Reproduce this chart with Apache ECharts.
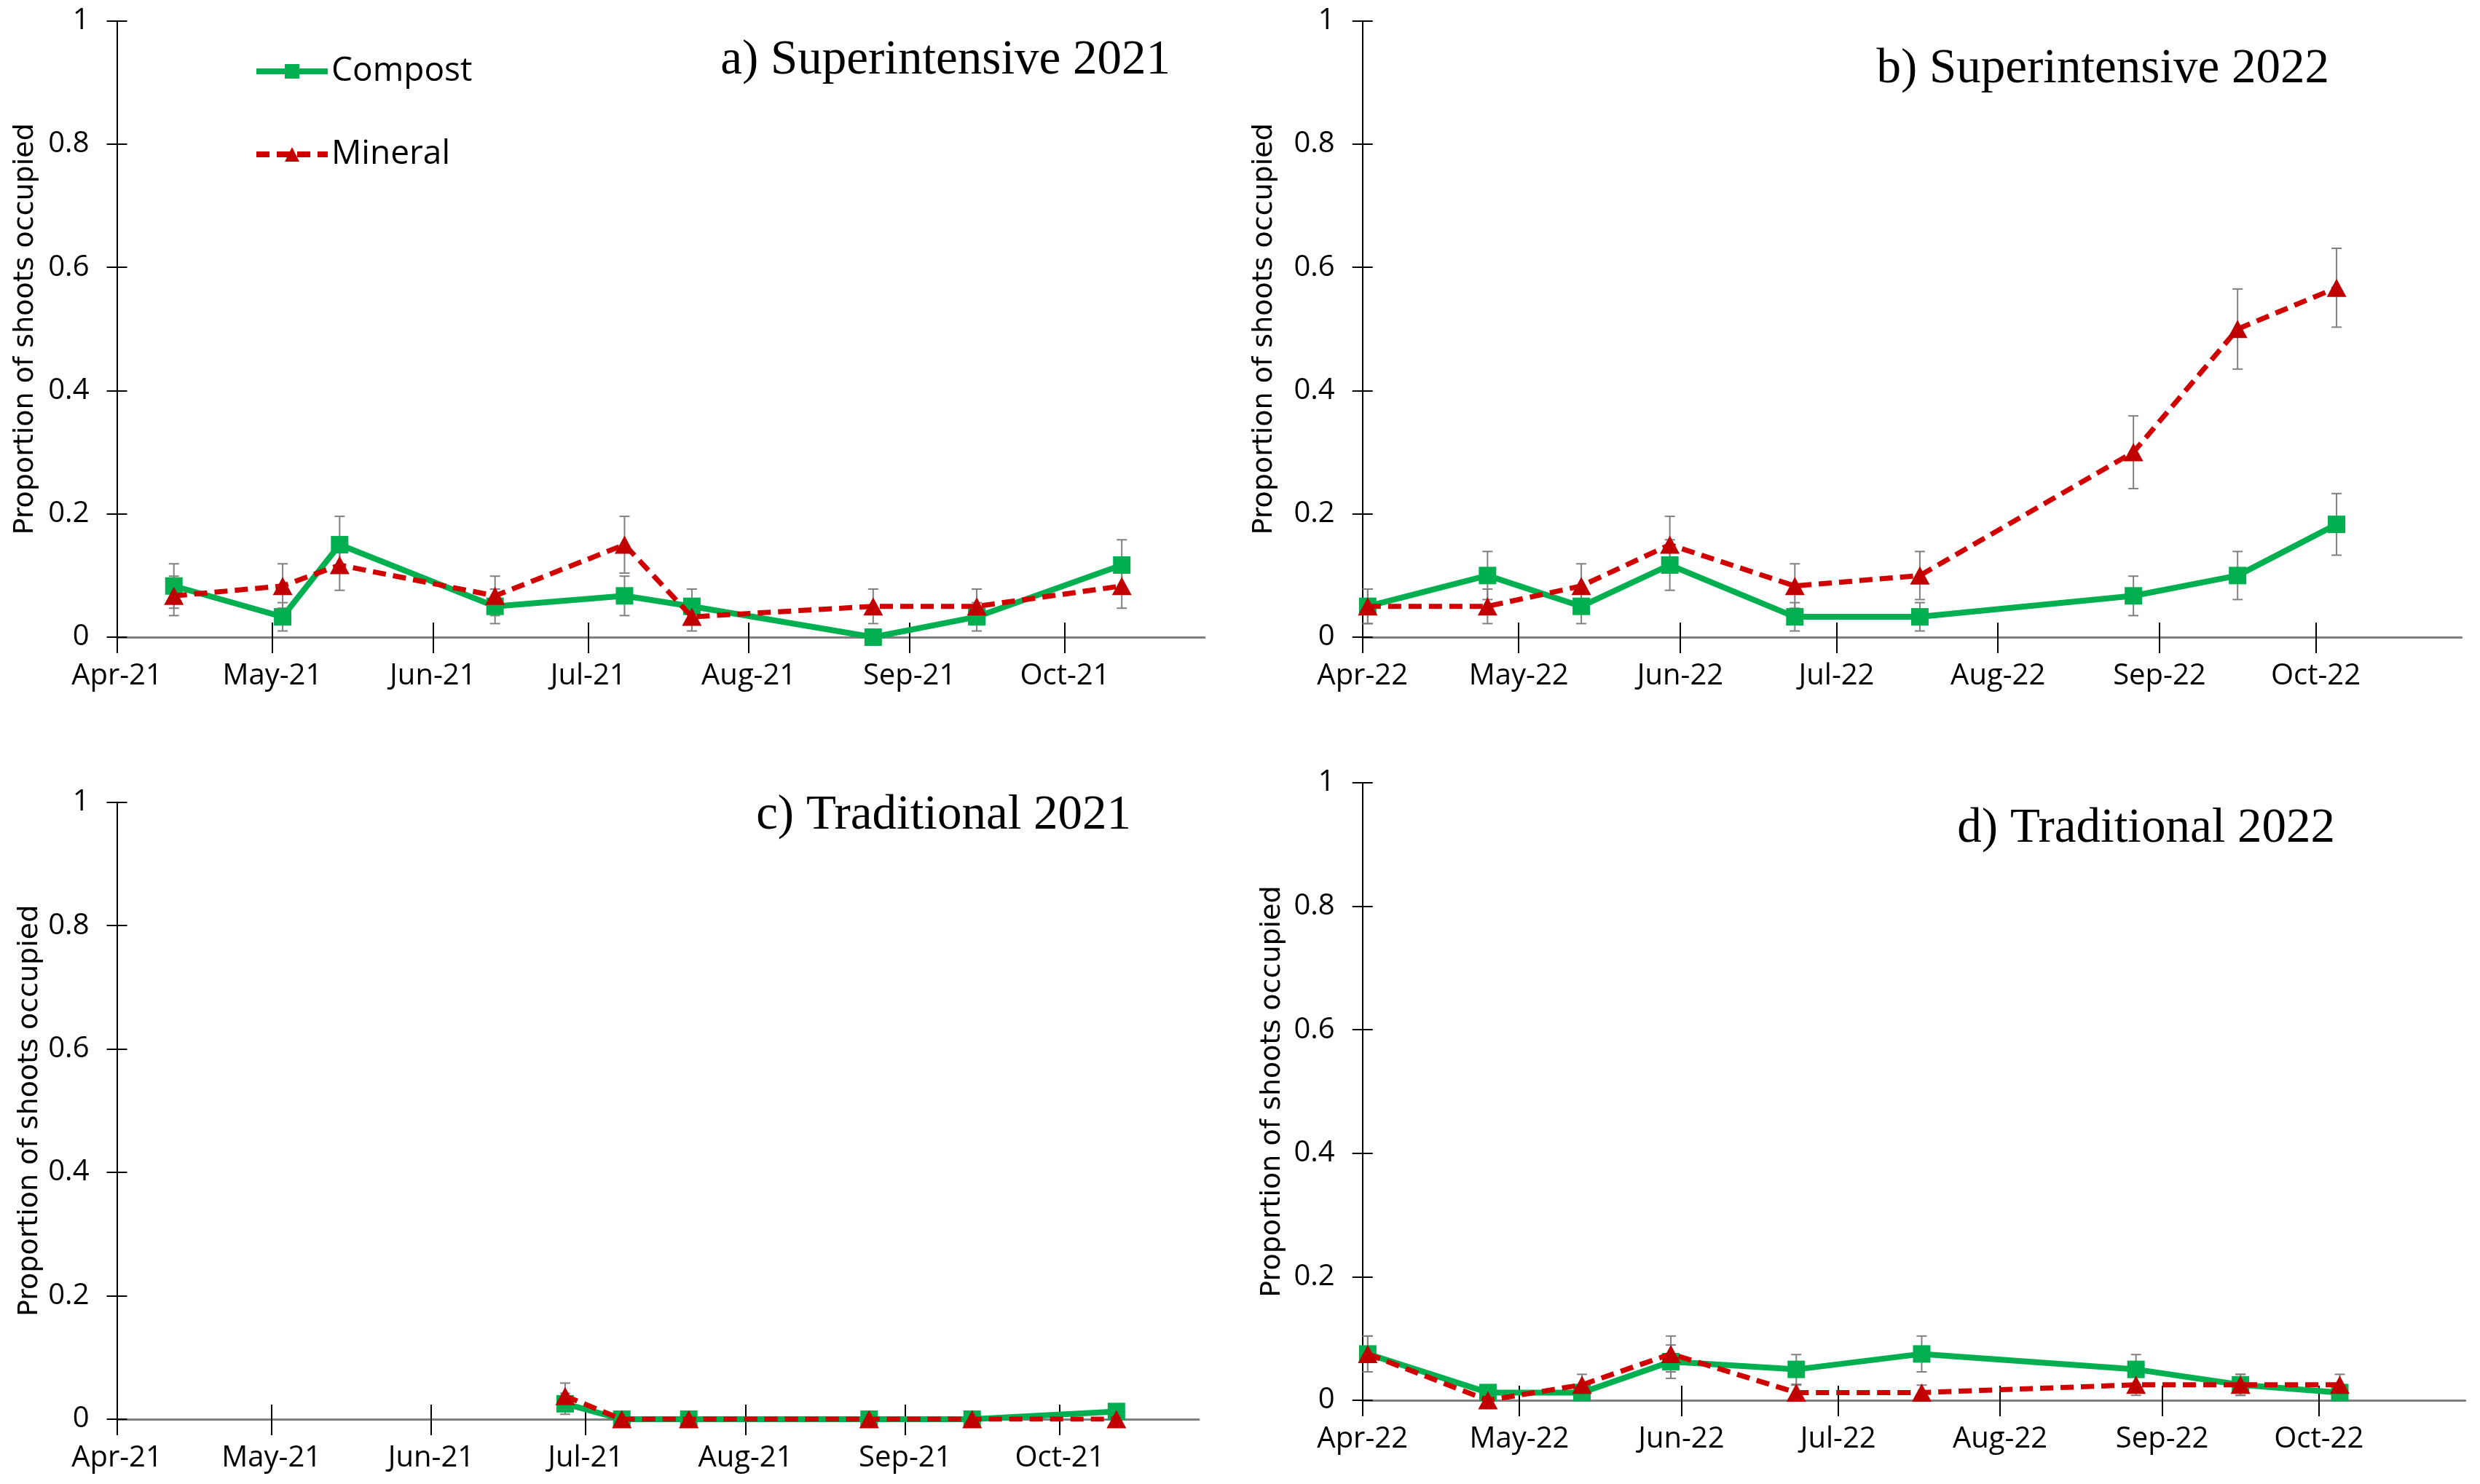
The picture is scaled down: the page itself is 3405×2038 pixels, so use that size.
<!DOCTYPE html>
<html>
<head>
<meta charset="utf-8">
<script src="https://cdn.jsdelivr.net/npm/echarts@6/dist/echarts.min.js"></script>
<style>
html,body{margin:0;padding:0;background:#fff;}
#chart{width:3405px;height:2038px;}
</style>
</head>
<body>
<div id="chart"></div>
<script>
// ---------- DATA ----------
const monthTicks21 = ['2021-04-01','2021-05-01','2021-06-01','2021-07-01','2021-08-01','2021-09-01','2021-10-01'];
const monthLabels21 = ['Apr-21','May-21','Jun-21','Jul-21','Aug-21','Sep-21','Oct-21'];
const monthTicks22 = ['2022-04-01','2022-05-01','2022-06-01','2022-07-01','2022-08-01','2022-09-01','2022-10-01'];
const monthLabels22 = ['Apr-22','May-22','Jun-22','Jul-22','Aug-22','Sep-22','Oct-22'];
const yTicks = [0, 0.2, 0.4, 0.6, 0.8, 1];

const titles = ['a) Superintensive 2021','b) Superintensive 2022','c) Traditional 2021','d) Traditional 2022'];
const seriesNames = ['Compost','Mineral'];
const yName = 'Proportion of shoots occupied';

// a) Superintensive 2021
const datesA = ['2021-04-12','2021-05-03','2021-05-14','2021-06-13','2021-07-08','2021-07-21','2021-08-25','2021-09-14','2021-10-12'];
const compostA = [0.083,0.033,0.15,0.05,0.067,0.05,0,0.033,0.117];
const compostAErr = [0.036,0.023,0.046,0.028,0.032,0.028,0,0.023,0.041];
const mineralA = [0.067,0.083,0.117,0.067,0.15,0.033,0.05,0.05,0.083];
const mineralAErr = [0.032,0.036,0.041,0.032,0.046,0.023,0.028,0.028,0.036];

// b) Superintensive 2022
const datesB = ['2022-04-02','2022-04-25','2022-05-13','2022-05-30','2022-06-23','2022-07-17','2022-08-27','2022-09-16','2022-10-05'];
const compostB = [0.05,0.1,0.05,0.117,0.033,0.033,0.067,0.1,0.183];
const compostBErr = [0.028,0.039,0.028,0.041,0.023,0.023,0.032,0.039,0.05];
const mineralB = [0.05,0.05,0.083,0.15,0.083,0.1,0.3,0.5,0.567];
const mineralBErr = [0.028,0.028,0.036,0.046,0.036,0.039,0.059,0.065,0.064];

// c) Traditional 2021
const datesC = ['2021-06-27','2021-07-08','2021-07-21','2021-08-25','2021-09-14','2021-10-12'];
const compostC = [0.025,0,0,0,0,0.0125];
const compostCErr = [0.017,0,0,0,0,0.012];
const mineralC = [0.0375,0,0,0,0,0];
const mineralCErr = [0.021,0,0,0,0,0];

// d) Traditional 2022
const datesD = ['2022-04-02','2022-04-25','2022-05-13','2022-05-30','2022-06-23','2022-07-17','2022-08-27','2022-09-16','2022-10-05'];
const compostD = [0.075,0.0125,0.0125,0.0625,0.05,0.075,0.05,0.025,0.0125];
const compostDErr = [0.029,0.012,0.012,0.027,0.024,0.029,0.024,0.017,0.012];
const mineralD = [0.075,0,0.025,0.075,0.0125,0.0125,0.025,0.025,0.025];
const mineralDErr = [0.029,0,0.017,0.029,0.012,0.012,0.017,0.017,0.017];

const xRange21 = ['2021-04-01','2021-10-28'];
const xRange22 = ['2022-04-01','2022-10-29'];

// ---------- LAYOUT / STYLE ----------
const ts = s => new Date(s + 'T00:00:00').getTime();
const GREEN = '#00B050', RED_LINE = '#D00000', RED = '#C00000', ERR = '#808080';
const tickFont = 'Open Sans';

const panels = [
  {dates: datesA, c: compostA, ce: compostAErr, m: mineralA, me: mineralAErr, ticks: monthTicks21, labels: monthLabels21, range: xRange21,
   grid: {left: 160.5, top: 28.7, width: 1493.5, height: 846.3}, nameGap: 106, title: {right: 1798, top: 50}},
  {dates: datesB, c: compostB, ce: compostBErr, m: mineralB, me: mineralBErr, ticks: monthTicks22, labels: monthLabels22, range: xRange22,
   grid: {left: 1870.7, top: 28.7, width: 1509, height: 846.3}, nameGap: 116, title: {right: 207, top: 62}},
  {dates: datesC, c: compostC, ce: compostCErr, m: mineralC, me: mineralCErr, ticks: monthTicks21, labels: monthLabels21, range: xRange21,
   grid: {left: 160.5, top: 1101.7, width: 1485.5, height: 847.3}, nameGap: 100, title: {right: 1852, top: 1087}},
  {dates: datesD, c: compostD, ce: compostDErr, m: mineralD, me: mineralDErr, ticks: monthTicks22, labels: monthLabels22, range: xRange22,
   grid: {left: 1870.7, top: 1075, width: 1514, height: 848}, nameGap: 105, title: {right: 199, top: 1105}}
];

function errRender(params, api) {
  const x = api.value(0), lo = api.value(1), hi = api.value(2);
  if (hi - lo < 1e-6) return null;
  const t = api.coord([x, hi]), b = api.coord([x, lo]);
  const c = 7;
  const st = {stroke: ERR, lineWidth: 2};
  return {type: 'group', children: [
    {type: 'line', shape: {x1: t[0], y1: t[1], x2: b[0], y2: b[1]}, style: st},
    {type: 'line', shape: {x1: t[0] - c, y1: t[1], x2: t[0] + c, y2: t[1]}, style: st},
    {type: 'line', shape: {x1: b[0] - c, y1: b[1], x2: b[0] + c, y2: b[1]}, style: st}
  ]};
}

const grids = [], xAxes = [], yAxes = [], series = [], titleArr = [];
panels.forEach((p, i) => {
  grids.push(Object.assign({outerBoundsMode: 'none', containLabel: false}, p.grid));
  titleArr.push({text: titles[i], right: p.title.right, top: p.title.top, padding: 0,
    textStyle: {fontFamily: 'Liberation Serif', fontSize: 67, fontWeight: 'normal', color: '#000', lineHeight: 66}});
});
const tickVals = panels.map(p => p.ticks.map(ts));
// main axes 0..3
panels.forEach((p, i) => {
  xAxes.push({
    type: 'value', gridIndex: i, min: ts(p.range[0]), max: ts(p.range[1]), scale: true,
    axisLine: {show: true, onZero: false, lineStyle: {color: '#7f7f7f', width: 3}},
    axisTick: {show: true, length: 22, customValues: tickVals[i], lineStyle: {color: '#000', width: 2}},
    axisLabel: {show: true, customValues: tickVals[i], margin: 34, color: '#000', fontFamily: tickFont, fontSize: 40,
      formatter: (v) => { const k = tickVals[i].indexOf(v); return k >= 0 ? p.labels[k] : ''; }},
    splitLine: {show: false}, minorTick: {show: false}
  });
  yAxes.push({
    type: 'value', gridIndex: i, min: 0, max: 1, interval: 0.2,
    name: yName, nameLocation: 'middle', nameRotate: 90, nameGap: p.nameGap,
    nameTextStyle: {fontFamily: 'DejaVu Sans', fontSize: 38, color: '#000'},
    axisLine: {show: true, lineStyle: {color: '#000', width: 2}},
    axisTick: {show: true, length: 14, lineStyle: {color: '#000', width: 2}},
    axisLabel: {margin: 38, color: '#000', fontFamily: tickFont, fontSize: 40,
      formatter: v => String(Math.round(v * 10) / 10)},
    splitLine: {show: false}
  });
});
// overlay axes 4..7 for crossing ticks
panels.forEach((p, i) => {
  xAxes.push({
    type: 'value', gridIndex: i, min: ts(p.range[0]), max: ts(p.range[1]), scale: true, position: 'bottom',
    axisLine: {show: false, onZero: false},
    axisTick: {show: true, inside: true, length: 20, customValues: tickVals[i], lineStyle: {color: '#000', width: 2}},
    axisLabel: {show: false}, splitLine: {show: false}
  });
  yAxes.push({
    type: 'value', gridIndex: i, min: 0, max: 1, interval: 0.2, position: 'left',
    axisLine: {show: false},
    axisTick: {show: true, inside: true, length: 14, lineStyle: {color: '#000', width: 2}},
    axisLabel: {show: false}, splitLine: {show: false}
  });
});

panels.forEach((p, i) => {
  const t = p.dates.map(ts);
  series.push({
    type: 'custom', name: seriesNames[0] + ' error', xAxisIndex: i, yAxisIndex: i, z: 1,
    renderItem: errRender, encode: {x: 0, y: [1, 2]}, silent: true,
    data: t.map((d, k) => [d, p.c[k] - p.ce[k], p.c[k] + p.ce[k]])
  });
  series.push({
    type: 'custom', name: seriesNames[1] + ' error', xAxisIndex: i, yAxisIndex: i, z: 1,
    renderItem: errRender, encode: {x: 0, y: [1, 2]}, silent: true,
    data: t.map((d, k) => [d, p.m[k] - p.me[k], p.m[k] + p.me[k]])
  });
  series.push({
    type: 'line', name: seriesNames[0], xAxisIndex: i, yAxisIndex: i, z: 2,
    data: t.map((d, k) => [d, p.c[k]]),
    symbol: 'rect', symbolSize: 24, showAllSymbol: true,
    lineStyle: {color: GREEN, width: 8}, itemStyle: {color: GREEN}
  });
  series.push({
    type: 'line', name: seriesNames[1], xAxisIndex: i, yAxisIndex: i, z: 3,
    data: t.map((d, k) => [d, p.m[k]]),
    symbol: 'triangle', symbolSize: [27, 25], showAllSymbol: true,
    lineStyle: {color: RED_LINE, width: 7, type: [18, 10]}, itemStyle: {color: RED}
  });
});

const chart = echarts.init(document.getElementById('chart'), null, {renderer: 'canvas', width: 3405, height: 2038});
chart.setOption({
  animation: false,
  backgroundColor: '#fff',
  title: titleArr,
  legend: {
    data: seriesNames, orient: 'vertical', left: 348, top: 73, itemWidth: 98, itemHeight: 25, itemGap: 64,
    padding: 0, lineStyle: {width: 8},
    textStyle: {fontFamily: tickFont, fontSize: 46, color: '#000', lineHeight: 50}
  },
  grid: grids, xAxis: xAxes, yAxis: yAxes, series: series
});
</script>
</body>
</html>
